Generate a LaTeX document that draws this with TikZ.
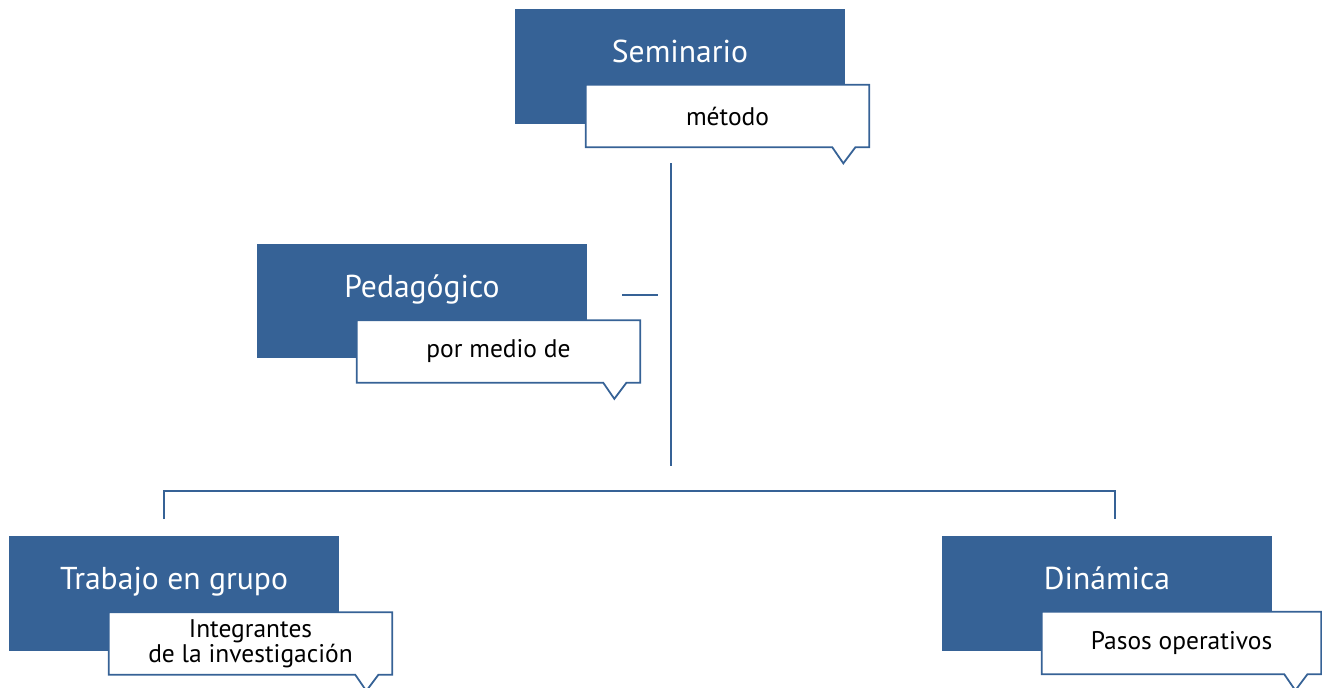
\documentclass[tikz,border=0pt]{standalone}
\usepackage{fontspec}
\setmainfont{PT Sans}
\usepackage{tikz}
\usetikzlibrary{positioning}

\definecolor{azul}{RGB}{54,98,150}

% borde del globo con la punta abajo a la derecha
\newcommand{\globoborde}[1]{%
  \draw[borde] (#1.south east) -- ++(-14,0) -- ++(-12,16) -- ++(-11,-16)
    -- (#1.south west) -- (#1.north west) -- (#1.north east) -- cycle;}

\begin{document}
\begin{tikzpicture}[x=0.02cm, y=-0.02cm,
  caja/.style={fill=azul, text=white, minimum width=6.6cm, minimum height=2.3cm,
    inner sep=0pt, font=\fontsize{18}{21}\selectfont,
    text height=0.44cm, text depth=0.6cm},
  globo/.style={fill=white, minimum width=5.66cm, minimum height=1.24cm,
    inner sep=0pt, align=center, font=\fontsize{14.5}{14.2}\selectfont},
  borde/.style={draw=azul, line width=1pt, line join=miter},
  linea/.style={draw=azul, line width=1pt}]
\useasboundingbox (0,0) rectangle (1322,687);

\node [caja] (sem) at (680,66.5) {Seminario};
\node [globo] (met) at (727.5,116) {método};
\globoborde{met}

\node [caja] (ped) at (422,301) {Pedagógico};
\node [globo] (por) at (498.5,351.5) {por medio de};
\globoborde{por}

\node [caja] (tra) at (174,593.5) {Trabajo en grupo};
\node [globo] (int) at (250.5,643.5) {Integrantes\\de la investigación};
\globoborde{int}

\node [caja] (din) at (1107,593.5) {Dinámica};
\node [globo, minimum width=5.58cm] (pas) at (1181.5,643) {Pasos operativos};
\globoborde{pas}

\coordinate (v1) at (671,163);
\coordinate (v2) at (671,466);
\coordinate (h1) at (622,295);
\coordinate (h2) at (658,295);
\coordinate (b1) at (164,519);
\coordinate (b2) at (1115,519);

\draw [linea] (v1) -- (v2);
\draw [linea] (h1) -- (h2);
\draw [linea] (b1) -- ++(0,-28) -| (b2);
\end{tikzpicture}
\end{document}
